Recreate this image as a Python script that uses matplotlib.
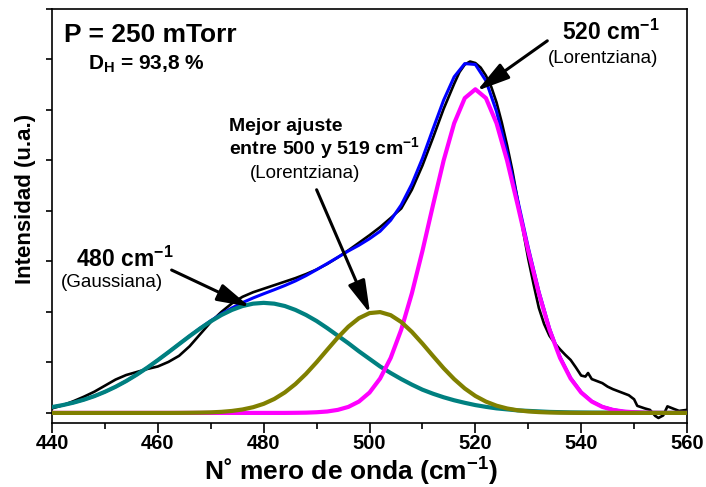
import matplotlib

matplotlib.use("Agg")
import matplotlib.pyplot as plt  # noqa: E402
import numpy as np  # noqa: E402

# Raman spectrum of the sample, intensity in arbitrary units
x_exp = [440, 442, 444, 446, 448, 450, 452, 454, 456, 458,
         460, 462, 464, 466, 468, 470, 472, 474, 476, 478,
         480, 482, 484, 486, 488, 490, 492, 494, 496, 498,
         500, 502, 504, 506, 508, 510, 512, 514, 516, 517,
         518, 519, 520, 521, 522, 523, 524, 525, 526, 527,
         528, 529, 530, 531, 532, 533, 534, 535, 536, 537,
         538, 539, 540, 540.8, 541.3, 542, 543, 544, 545, 546,
         547, 548, 549, 550, 550.6, 552, 553, 554, 554.6, 555.5,
         556.3, 557.5, 558.5, 560]
y_exp = [0.09, 0.15, 0.23, 0.32, 0.42, 0.54, 0.66, 0.75, 0.81, 0.87,
         0.92, 1.01, 1.13, 1.32, 1.56, 1.80, 2.00, 2.17, 2.30, 2.39,
         2.46, 2.53, 2.60, 2.67, 2.75, 2.84, 2.95, 3.08, 3.22, 3.37,
         3.52, 3.68, 3.86, 4.05, 4.42, 4.90, 5.45, 6.02, 6.52, 6.75,
         6.90, 6.96, 6.93, 6.84, 6.68, 6.46, 6.15, 5.75, 5.30, 4.80,
         4.22, 3.62, 3.05, 2.55, 2.08, 1.76, 1.53, 1.38, 1.26, 1.15,
         1.05, 0.90, 0.74, 0.72, 0.79, 0.67, 0.63, 0.59, 0.52, 0.47,
         0.43, 0.39, 0.35, 0.27, 0.14, 0.09, 0.06, -0.06, -0.10, -0.05,
         0.13, 0.08, 0.04, 0.06]

# fitted components, sampled every 2 cm-1 from 440 to 560
x_fit = np.arange(440, 561, 2)
band_480 = [0.116, 0.154, 0.202, 0.261, 0.332, 0.418, 0.517, 0.630, 0.757, 0.896,
            1.046, 1.202, 1.362, 1.521, 1.673, 1.814, 1.938, 2.040, 2.117, 2.164,
            2.180, 2.164, 2.117, 2.040, 1.940, 1.820, 1.680, 1.530, 1.380, 1.220,
            1.070, 0.920, 0.790, 0.670, 0.560, 0.460, 0.380, 0.310, 0.250, 0.200,
            0.155, 0.120, 0.090, 0.070, 0.050, 0.040, 0.030, 0.020, 0.015, 0.010,
            0.008, 0.006, 0.005, 0.004, 0.003, 0.002, 0.002, 0.001, 0.001, 0.0,
            0.0]
band_501 = [0.0, 0.0, 0.0, 0.0, 0.0, 0.0, 0.0, 0.0, 0.0, 0.0,
            0.0, 0.0, 0.001, 0.003, 0.006, 0.011, 0.021, 0.039, 0.068, 0.113,
            0.180, 0.276, 0.406, 0.572, 0.774, 1.004, 1.250, 1.492, 1.708, 1.876,
            1.977, 1.997, 1.936, 1.800, 1.605, 1.373, 1.127, 0.886, 0.669, 0.484,
            0.336, 0.224, 0.143, 0.088, 0.052, 0.029, 0.016, 0.008, 0.004, 0.002,
            0.0, 0.0, 0.0, 0.0, 0.0, 0.0, 0.0, 0.0, 0.0, 0.0,
            0.0]
band_520 = [0.0, 0.0, 0.0, 0.0, 0.0, 0.0, 0.0, 0.0, 0.0, 0.0,
            0.0, 0.0, 0.0, 0.0, 0.0, 0.0, 0.0, 0.0, 0.0, 0.0,
            0.0, 0.0, 0.0, 0.002, 0.005, 0.013, 0.028, 0.060, 0.119, 0.225,
            0.403, 0.681, 1.090, 1.651, 2.367, 3.208, 4.117, 4.997, 5.738, 6.235,
            6.410, 6.235, 5.738, 4.997, 4.117, 3.208, 2.367, 1.651, 1.090, 0.681,
            0.403, 0.225, 0.119, 0.060, 0.028, 0.013, 0.005, 0.002, 0.0, 0.0,
            0.0]
fit_total = [0.116, 0.154, 0.202, 0.261, 0.332, 0.418, 0.517, 0.630, 0.757, 0.896,
             1.046, 1.202, 1.363, 1.524, 1.679, 1.825, 1.959, 2.079, 2.185, 2.277,
             2.360, 2.440, 2.523, 2.614, 2.719, 2.837, 2.958, 3.082, 3.207, 3.321,
             3.450, 3.598, 3.816, 4.121, 4.532, 5.041, 5.624, 6.193, 6.657, 6.919,
             6.901, 6.579, 5.971, 5.155, 4.219, 3.277, 2.413, 1.679, 1.109, 0.693,
             0.411, 0.231, 0.124, 0.064, 0.031, 0.015, 0.007, 0.003, 0.001, 0.0,
             0.0]

x_ticks = [440, 460, 480, 500, 520, 540, 560]

SANS = ["Liberation Sans", "DejaVu Sans"]

plt.rcParams["font.family"] = SANS
plt.rcParams["mathtext.fontset"] = "custom"
plt.rcParams["mathtext.rm"] = "Liberation Sans"
plt.rcParams["mathtext.bf"] = "Liberation Sans:bold"

fig = plt.figure(figsize=(7.06, 4.87), dpi=100)
ax = fig.add_axes([0.0737, 0.1314, 0.8994, 0.8501])

ax.plot(x_exp, y_exp, color="black", lw=1.9, zorder=2)
ax.plot(x_fit, fit_total, color="#0000FF", lw=2.2, zorder=3)
ax.plot(x_fit, band_480, color="#008080", lw=3.0, zorder=4)
ax.plot(x_fit, band_520, color="#FF00FF", lw=3.0, zorder=5)
ax.plot(x_fit, band_501, color="#808000", lw=3.0, zorder=6)

ax.set_xlim(440, 560)
ax.set_ylim(-0.2, 8.0)
ax.set_xticks(x_ticks)
ax.set_xticks(np.arange(450, 560, 20), minor=True)
ax.set_yticks(range(0, 9))
ax.set_yticklabels([])
ax.tick_params(axis="x", which="major", length=7, width=1.2, pad=1, labelsize=14.5)
ax.tick_params(axis="x", which="minor", length=4, width=1.2)
ax.tick_params(axis="y", which="major", length=4, width=1.2)
for lab in ax.get_xticklabels():
    lab.set_fontweight("bold")
for sp in ax.spines.values():
    sp.set_linewidth(1.2)

ax.set_xlabel(r"N˚ mero de onda (cm$^{\mathbf{-1}}$)", fontweight="bold", fontsize=19)
ax.xaxis.set_label_coords(0.471, -0.076)
ax.set_ylabel("Intensidad (u.a.)", fontweight="bold", fontsize=16)
ax.yaxis.set_label_coords(-0.026, 0.541)

tr = ax.transAxes
ax.text(0.019, 0.920, "P = 250 mTorr", transform=tr, fontsize=19, fontweight="bold")
ax.text(0.0567, 0.854, r"D$_{\mathbf{H}}$ = 93,8 %", transform=tr, fontsize=15,
        fontweight="bold")
ax.text(0.803, 0.925, r"520 cm$^{\mathbf{-1}}$", transform=tr, fontsize=16.5,
        fontweight="bold")
ax.text(0.781, 0.869, "(Lorentziana)", transform=tr, fontsize=13.5)
ax.text(0.279, 0.706, "Mejor ajuste", transform=tr, fontsize=14, fontweight="bold")
ax.text(0.279, 0.647, r"entre 500 y 519 cm$^{\mathbf{-1}}$", transform=tr,
        fontsize=14, fontweight="bold")
ax.text(0.312, 0.591, "(Lorentziana)", transform=tr, fontsize=13.5)
ax.text(0.0378, 0.3775, r"480 cm$^{\mathbf{-1}}$", transform=tr, fontsize=16.5,
        fontweight="bold")
ax.text(0.0142, 0.328, "(Gaussiana)", transform=tr, fontsize=13.5)

arrow = dict(arrowstyle="-|>,head_length=1.0,head_width=0.27", color="black",
             lw=2.2, mutation_scale=20, shrinkA=0, shrinkB=0)
ax.annotate("", xy=(520.3, 6.38), xytext=(533.6, 7.37), arrowprops=arrow, zorder=8)
ax.annotate("", xy=(477.4, 2.10), xytext=(462.6, 2.83), arrowprops=arrow, zorder=8)
ax.annotate("", xy=(500.1, 1.97), xytext=(490.0, 4.42), arrowprops=arrow, zorder=8)

fig.savefig("out.png", dpi=100)
